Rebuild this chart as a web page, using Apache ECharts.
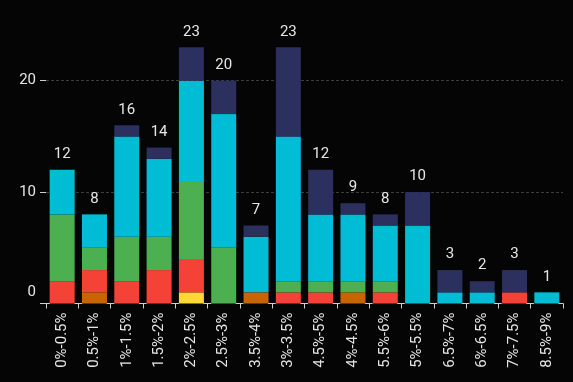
<!DOCTYPE html>
<html>
<head>
<meta charset="utf-8">
<script src="https://cdn.jsdelivr.net/npm/echarts@6/dist/echarts.min.js"></script>
<style>
  html, body { margin: 0; padding: 0; background: #050505; }
  #chart { width: 573px; height: 382px; }
</style>
</head>
<body>
<div id="chart"></div>
<script>
// Rate buckets along the x axis
const categories = ['0%-0.5%', '0.5%-1%', '1%-1.5%', '1.5%-2%', '2%-2.5%', '2.5%-3%', '3.5%-4%', '3%-3.5%',
                    '4.5%-5%', '4%-4.5%', '5.5%-6%', '5%-5.5%', '6.5%-7%', '6%-6.5%', '7%-7.5%', '8.5%-9%'];

// Stacked counts, bottom to top
const yellowVals = [0, 0, 0, 0, 1, 0, 0, 0, 0, 0, 0, 0, 0, 0, 0, 0];
const orangeVals = [0, 1, 0, 0, 0, 0, 1, 0, 0, 1, 0, 0, 0, 0, 0, 0];
const redVals    = [2, 2, 2, 3, 3, 0, 0, 1, 1, 0, 1, 0, 0, 0, 1, 0];
const greenVals  = [6, 2, 4, 3, 7, 5, 0, 1, 1, 1, 1, 0, 0, 0, 0, 0];
const cyanVals   = [4, 3, 9, 7, 9, 12, 5, 13, 6, 6, 5, 7, 1, 1, 0, 1];
const navyVals   = [0, 0, 1, 1, 3, 3, 1, 8, 4, 1, 1, 3, 2, 1, 2, 0];

// Y axis tick labels
const yTickValues = [0, 10, 20];

const layers = [
  { name: 'l1', data: yellowVals, color: '#FDD835' },
  { name: 'l2', data: orangeVals, color: '#C96500' },
  { name: 'l3', data: redVals,    color: '#F44336' },
  { name: 'l4', data: greenVals,  color: '#4CAF50' },
  { name: 'l5', data: cyanVals,   color: '#00BCD4' },
  { name: 'l6', data: navyVals,   color: '#2C305E' }
];

const totals = categories.map((_, i) => layers.reduce((s, l) => s + l.data[i], 0));

const FONT = 'Roboto';
const TEXT = '#e6e6e6';

const series = layers.map(l => ({
  name: l.name,
  type: 'bar',
  stack: 'all',
  barWidth: 25,
  data: l.data,
  itemStyle: { color: l.color },
  emphasis: { disabled: true }
}));

// Zero-height cap on each stack, carrying the total label
series.push({
  name: 'total',
  type: 'bar',
  stack: 'all',
  barWidth: 25,
  data: categories.map(() => 0),
  itemStyle: { color: 'transparent' },
  label: {
    show: true,
    position: 'top',
    distance: 8,
    color: TEXT,
    fontFamily: FONT,
    fontSize: 15,
    formatter: p => String(totals[p.dataIndex])
  },
  emphasis: { disabled: true }
});

const chart = echarts.init(document.getElementById('chart'), null, { renderer: 'canvas' });
chart.setOption({
  backgroundColor: '#050505',
  animation: false,
  grid: { left: 46, right: 10, top: 25, bottom: 78.5, containLabel: false },
  xAxis: {
    type: 'category',
    data: categories,
    axisLine: {
      show: true,
      lineStyle: { color: '#cfcfcf', width: 1, type: [7, 25.27], dashOffset: 3.5 }
    },
    axisTick: { show: true, length: 5, lineStyle: { color: '#cfcfcf' } },
    axisLabel: {
      rotate: 90,
      margin: 9,
      color: TEXT,
      fontFamily: FONT,
      fontSize: 15,
      interval: 0
    },
    splitLine: { show: false }
  },
  yAxis: {
    type: 'value',
    min: 0,
    max: 25,
    interval: 10,
    axisLine: { show: false },
    axisTick: {
      show: true,
      length: 6,
      customValues: yTickValues,
      lineStyle: { color: '#cfcfcf' }
    },
    axisLabel: {
      margin: 10,
      color: TEXT,
      fontFamily: FONT,
      fontSize: 15,
      customValues: yTickValues,
      formatter: v => v === 0 ? '{lo|0}' : String(v),
      rich: {
        lo: { color: TEXT, fontFamily: FONT, fontSize: 15, padding: [0, 0, 22, 0] }
      }
    },
    splitLine: {
      show: true,
      showMinLine: false,
      showMaxLine: true,
      lineStyle: { color: '#3c3c3c', type: [3, 2], width: 1 }
    }
  },
  series: series
});
</script>
</body>
</html>
